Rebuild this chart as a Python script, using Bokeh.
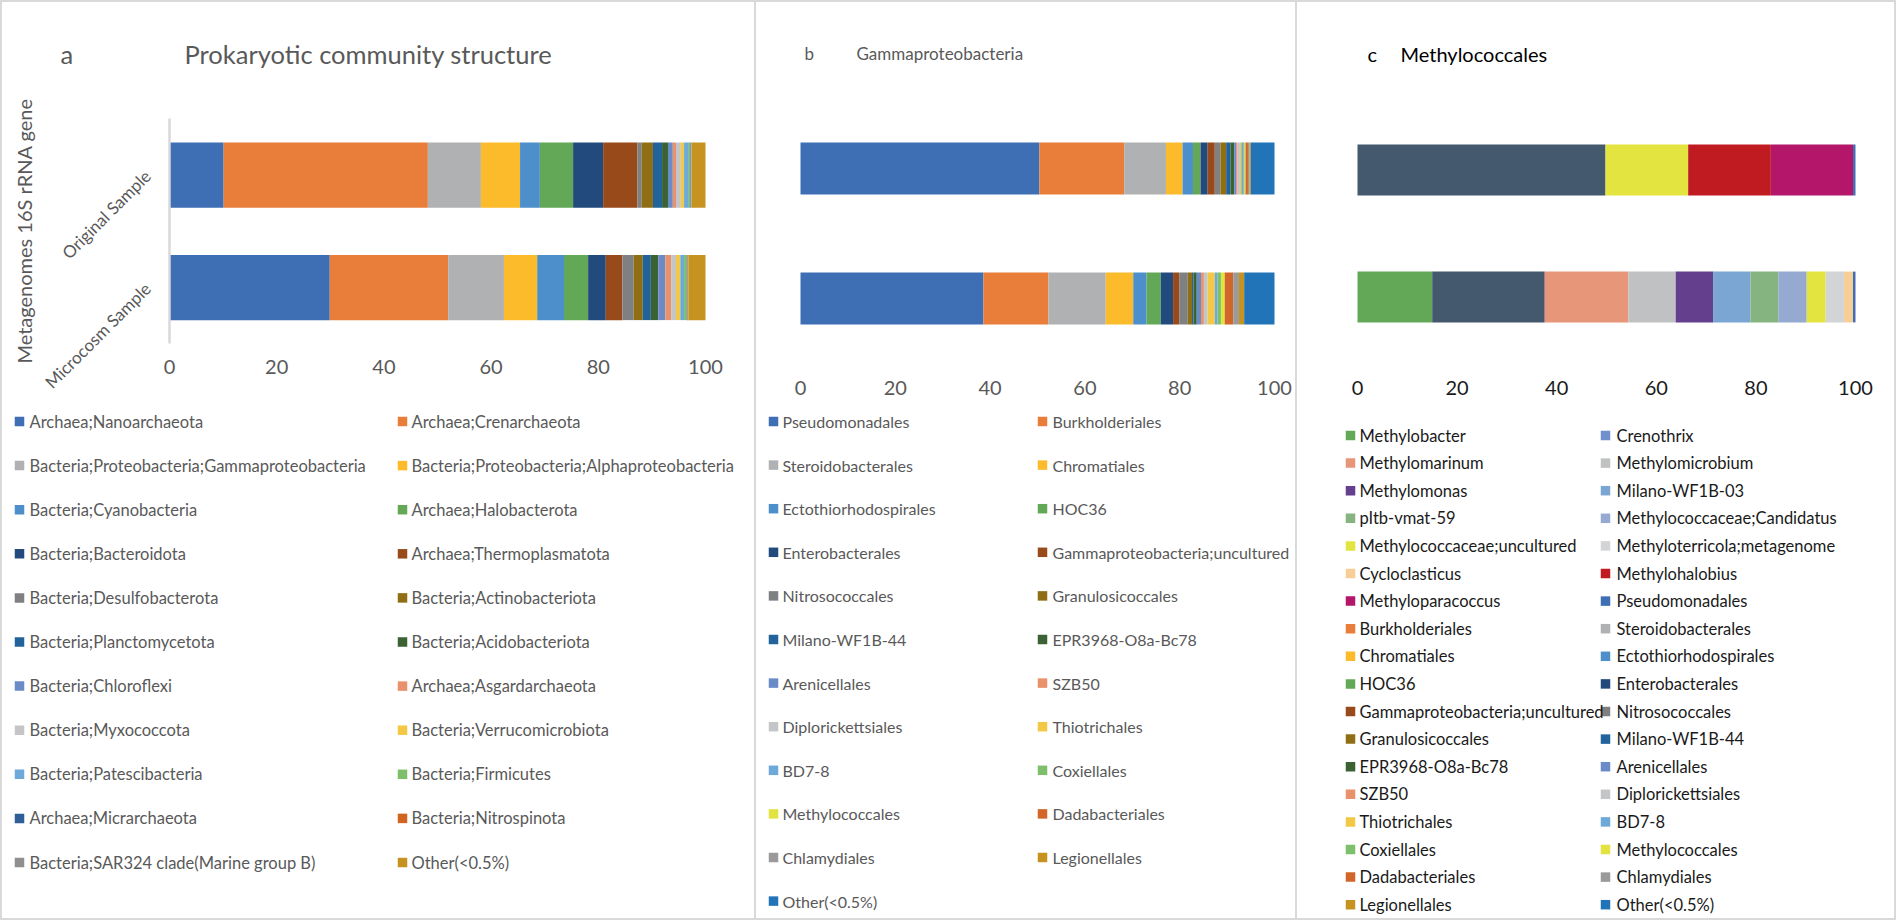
import numpy as np
from math import pi
from bokeh.plotting import figure
from bokeh.models import Range1d, FixedTicker, Div, ColumnDataSource, LinearAxis
from bokeh.layouts import row, column
from bokeh.core.properties import value
from bokeh.embed import file_html
from bokeh.resources import INLINE

# ---------------- data ----------------
samples = ["Original Sample", "Microcosm Sample"]
x_ticks = [0, 20, 40, 60, 80, 100]

a_series = ["Archaea;Nanoarchaeota", "Archaea;Crenarchaeota",
            "Bacteria;Proteobacteria;Gammaproteobacteria", "Bacteria;Proteobacteria;Alphaproteobacteria",
            "Bacteria;Cyanobacteria", "Archaea;Halobacterota",
            "Bacteria;Bacteroidota", "Archaea;Thermoplasmatota",
            "Bacteria;Desulfobacterota", "Bacteria;Actinobacteriota",
            "Bacteria;Planctomycetota", "Bacteria;Acidobacteriota",
            "Bacteria;Chloroflexi", "Archaea;Asgardarchaeota",
            "Bacteria;Myxococcota", "Bacteria;Verrucomicrobiota",
            "Bacteria;Patescibacteria", "Bacteria;Firmicutes",
            "Archaea;Micrarchaeota", "Bacteria;Nitrospinota",
            "Bacteria;SAR324 clade(Marine group B)", "Other(<0.5%)"]
a_original = [10.1, 38.1, 9.9, 7.3, 3.7, 6.2, 5.6, 6.4, 0.8, 2.1, 1.7, 1.1,
              0.9, 0.6, 0.9, 0.6, 0.9, 0.3, 0.1, 0.05, 0.05, 2.6]
a_microcosm = [29.9, 22.1, 10.4, 6.2, 5.0, 4.5, 3.3, 3.1, 2.1, 1.7, 1.5, 1.4,
               1.3, 1.1, 0.9, 0.8, 0.7, 0.5, 0.1, 0.1, 0.1, 3.2]

b_series = ["Pseudomonadales", "Burkholderiales", "Steroidobacterales", "Chromatiales",
            "Ectothiorhodospirales", "HOC36", "Enterobacterales", "Gammaproteobacteria;uncultured",
            "Nitrosococcales", "Granulosicoccales", "Milano-WF1B-44", "EPR3968-O8a-Bc78",
            "Arenicellales", "SZB50", "Diplorickettsiales", "Thiotrichales",
            "BD7-8", "Coxiellales", "Methylococcales", "Dadabacteriales",
            "Chlamydiales", "Legionellales", "Other(<0.5%)"]
b_original = [50.4, 17.9, 8.8, 3.5, 2.2, 1.6, 1.5, 1.5, 1.2, 1.2, 0.9, 0.8,
              0.4, 0.3, 0.5, 0.3, 0.4, 0.3, 0.2, 0.5, 0.3, 0.3, 5.0]
b_microcosm = [38.6, 13.7, 12.1, 5.8, 2.8, 3.0, 2.6, 1.3, 1.8, 0.9, 0.3, 0.7,
               0.9, 0.6, 0.8, 1.5, 0.6, 0.7, 0.8, 1.8, 1.2, 1.1, 6.4]

c_series = ["Methylobacter", "Crenothrix", "Methylomarinum", "Methylomicrobium",
            "Methylomonas", "Milano-WF1B-03", "pItb-vmat-59", "Methylococcaceae;Candidatus",
            "Methylococcaceae;uncultured", "Methyloterricola;metagenome", "Cycloclasticus", "Methylohalobius",
            "Methyloparacoccus", "Pseudomonadales", "Burkholderiales", "Steroidobacterales",
            "Chromatiales", "Ectothiorhodospirales", "HOC36", "Enterobacterales",
            "Gammaproteobacteria;uncultured", "Nitrosococcales", "Granulosicoccales", "Milano-WF1B-44",
            "EPR3968-O8a-Bc78", "Arenicellales", "SZB50", "Diplorickettsiales",
            "Thiotrichales", "BD7-8", "Coxiellales", "Methylococcales",
            "Dadabacteriales", "Chlamydiales", "Legionellales", "Other(<0.5%)"]
c_original = [0, 49.8, 0, 0, 0, 0, 0, 0, 16.6, 0, 0, 16.6, 16.5, 0.5,
              0, 0, 0, 0, 0, 0, 0, 0, 0, 0, 0, 0, 0, 0, 0, 0, 0, 0, 0, 0, 0, 0]
c_microcosm = [15.0, 22.6, 16.8, 9.5, 7.5, 7.5, 5.6, 5.7, 3.8, 3.7, 1.8, 0, 0, 0.5,
               0, 0, 0, 0, 0, 0, 0, 0, 0, 0, 0, 0, 0, 0, 0, 0, 0, 0, 0, 0, 0, 0]

# ---------------- styles ----------------
a_colors = ["#3E6EB4", "#E97E3B", "#B0B1B2", "#FBBB2B", "#4D8FCB", "#63A856",
            "#234A7D", "#994A1B", "#7F8082", "#906F14", "#22639B", "#3A6232",
            "#6A8BC8", "#E9916A", "#C4C5C6", "#F3C845", "#6DAAD9", "#7DBF6B",
            "#2F5F97", "#D1651F", "#8F8F8F", "#C69320"]
b_colors = ["#3E6EB4", "#E97E3B", "#B0B1B2", "#FBBB2B", "#4D8FCB", "#63A856",
            "#234A7D", "#994A1B", "#7F8082", "#906F14", "#22639B", "#3A6232",
            "#6A8BC8", "#E9916A", "#C4C5C6", "#F3C845", "#6DAAD9", "#7DBF6B",
            "#E2E340", "#D2652A", "#9A9A9A", "#C69320", "#2274B9"]
c_own_colors = ["#63A856", "#7090CB", "#E8967A", "#C0C1C3", "#643F8E", "#7BA6D4",
                "#86B480", "#96A9D0", "#E3E43F", "#D3D4D5", "#F7CE96", "#C11B22", "#B4166A"]
c_legend_colors = c_own_colors + b_colors
c_bar_colors = list(c_legend_colors)
c_bar_colors[1] = "#44586E"

FONT = "Lato"
GREY = "#595959"
DARK = "#1A1A1A"
BORDER = "#D9D9D9"
PANEL_H = 916

# category position (top to bottom as listed)
cat_pos = {s: len(samples) - 1 - i for i, s in enumerate(samples)}


def panel(width, px0, px100, py_top_cat, py_bot_cat, bar_h, tick_color, standoff,
          orig, micro, bar_colors, show_y,
          letter, letter_x, title, title_x, title_size, title_color,
          series, leg_colors, x_sw, x_tx, leg_y0, leg_dy, leg_size, leg_color):
    s = (px100 - px0) / 100.0
    u = py_bot_cat - py_top_cat
    p = figure(width=width, height=PANEL_H,
               x_range=Range1d(-px0 / s, (width - px0) / s),
               y_range=Range1d((py_bot_cat - PANEL_H) / u, py_bot_cat / u),
               output_backend="svg", toolbar_location=None, min_border=0,
               x_axis_location=None, y_axis_location=None)
    p.extra_x_ranges = {"px": Range1d(0, width)}
    p.extra_y_ranges = {"px": Range1d(PANEL_H, 0)}
    p.outline_line_color = None
    for g in p.grid:
        g.visible = False

    # stacked bars
    ys = [cat_pos[c] for c in samples]
    cum_o = np.concatenate([[0.0], np.cumsum(orig)])
    cum_m = np.concatenate([[0.0], np.cumsum(micro)])
    for i, c in enumerate(bar_colors):
        if orig[i] == 0 and micro[i] == 0:
            continue
        src = ColumnDataSource(dict(y=ys, left=[cum_o[i], cum_m[i]],
                                    right=[cum_o[i + 1], cum_m[i + 1]]))
        p.hbar(y="y", left="left", right="right", height=bar_h, fill_color=c,
               line_color=None, source=src)

    # value axis
    ax = LinearAxis(fixed_location=-0.5, ticker=FixedTicker(ticks=x_ticks))
    ax.axis_line_color = None
    ax.major_tick_line_color = None
    ax.minor_tick_line_color = None
    ax.major_tick_out = 0
    ax.major_label_text_font = FONT
    ax.major_label_text_font_size = "20px"
    ax.major_label_text_color = tick_color
    ax.major_label_standoff = standoff
    p.add_layout(ax, "below")

    # category axis: line + title; category names end at their bar like the spreadsheet axis
    if show_y:
        ay = LinearAxis(fixed_location=0, ticker=FixedTicker(ticks=[]),
                        bounds=(-0.5, len(samples) - 0.5))
        ay.axis_line_color = BORDER
        ay.axis_line_width = 2.5
        ay.major_tick_line_color = None
        ay.minor_tick_line_color = None
        ay.major_tick_out = 0
        ay.major_tick_in = 0
        ay.major_label_standoff = 0
        ay.axis_label = "Metagenomes 16S rRNA gene"
        ay.axis_label_text_font = FONT
        ay.axis_label_text_font_size = "20px"
        ay.axis_label_text_font_style = "normal"
        ay.axis_label_text_color = GREY
        ay.axis_label_standoff = 134
        p.add_layout(ay, "left")
        p.text(x=[0] * len(samples), y=ys, text=samples, angle=pi / 4,
               x_offset=-22, y_offset=-2,
               text_font=value(FONT), text_font_size="17px", text_color=GREY,
               text_align="right", text_baseline="middle")

    # panel titles
    p.text(x=[letter_x, title_x], y=[51, 51], text=[letter, title],
           x_range_name="px", y_range_name="px",
           text_font=value(FONT), text_font_size=title_size, text_color=title_color,
           text_baseline="middle", text_align="left")

    # legend (two columns, filled row by row)
    n = len(series)
    rows_i = [i // 2 for i in range(n)]
    cols_i = [i % 2 for i in range(n)]
    ly = [leg_y0 + r * leg_dy for r in rows_i]
    p.rect(x=[x_sw[c] for c in cols_i], y=ly, width=9.5, height=9.5,
           x_range_name="px", y_range_name="px", fill_color=leg_colors, line_color=None)
    p.text(x=[x_tx[c] for c in cols_i], y=ly, text=series,
           x_range_name="px", y_range_name="px",
           text_font=value(FONT), text_font_size=leg_size, text_color=leg_color,
           text_baseline="middle", text_align="left")
    return p


WA, WB, WC = 752, 539, 597

pa = panel(WA, 167, 703, 172.5, 285, 0.58, GREY, 16,
           a_original, a_microcosm, a_colors, True,
           "a", 58, "Prokaryotic community structure", 182, "25.5px", GREY,
           a_series, a_colors, [17, 400], [27, 409], 419, 44.1, "16.5px", GREY)
pb = panel(WB, 44, 518, 166, 296, 0.4, GREY, 17,
           b_original, b_microcosm, b_colors, False,
           "b", 48, "Gammaproteobacteria", 100, "17px", GREY,
           b_series, b_colors, [17, 286], [26, 296], 419, 43.6, "16px", GREY)
pc = panel(WC, 60, 558, 167.5, 294.5, 0.4, DARK, 20,
           c_original, c_microcosm, c_bar_colors, False,
           "c", 70, "Methylococcales", 103, "20px", "#000000",
           c_series, c_legend_colors, [53, 308], [62, 319], 433, 27.6, "16.5px", DARK)


def vline():
    return Div(width=2, height=PANEL_H, margin=0, styles={"background-color": BORDER})


TOTAL_W = 2 + WA + 2 + WB + 2 + WC + 2
body = row(vline(), pa, vline(), pb, vline(), pc, vline(), spacing=0)
layout = column(Div(width=TOTAL_W, height=2, margin=0, styles={"background-color": BORDER}),
                body,
                Div(width=TOTAL_W, height=2, margin=0, styles={"background-color": BORDER}),
                spacing=0)

open("out.html", "w").write(file_html(layout, INLINE))
